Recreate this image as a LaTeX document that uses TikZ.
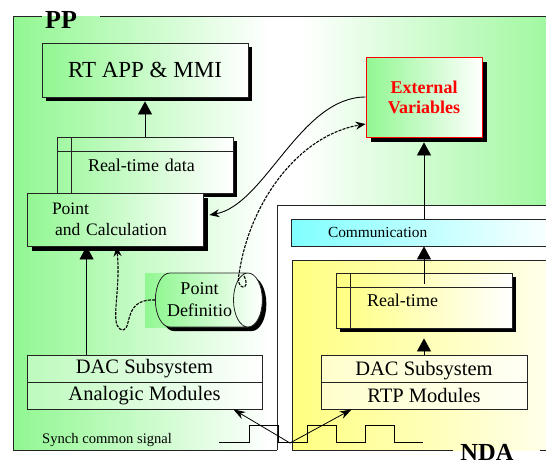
\documentclass[tikz,border=0pt]{standalone}
\usepackage{fontspec}
\setmainfont{Liberation Serif}
\usepackage{tikz}
\usetikzlibrary{arrows.meta, shapes.geometric, shadows, calc}

\definecolor{ppgreen}{RGB}{145,247,145}
\definecolor{ndayellow}{RGB}{255,255,128}
\definecolor{commcyan}{RGB}{128,255,255}
\definecolor{linegray}{RGB}{35,35,35}

\tikzset{
	frame/.style={draw=linegray, line width=0.8pt}
}
\tikzset{
	shadowed/.style={drop shadow={shadow xshift=#1, shadow yshift=-#1, fill=black, opacity=1}},
	greenbox/.style={frame, left color=ppgreen, right color=white, inner sep=2pt},
	store/.style={frame, inner sep=2pt, path picture={
		\draw[frame] ([yshift=-14pt]path picture bounding box.north west) -- ([yshift=-14pt]path picture bounding box.north east);
		\draw[frame] ([xshift=14pt]path picture bounding box.north west) -- ([xshift=14pt]path picture bounding box.south west);
	}},
	twopart/.style={frame, inner sep=2pt, path picture={
		\draw[frame] (path picture bounding box.west) -- (path picture bounding box.east);
	}}
}
\tikzset{
	bigtext/.style={font=\fontsize{23}{27}\selectfont},
	dactext/.style={font=\fontsize{20.5}{27}\selectfont},
	midtext/.style={font=\fontsize{18}{22}\selectfont},
	smalltext/.style={font=\fontsize{15.4}{18}\selectfont}
}
\tikzset{
	uparrow/.style={line width=0.8pt, -{Triangle[length=13pt,width=14pt]}},
	curvearrow/.style={line width=0.9pt, -{Stealth[length=10pt,width=8pt]}},
	dasharrow/.style={curvearrow, line width=1.1pt, dash pattern=on 3pt off 1.2pt},
	syncarrow/.style={line width=0.8pt, -{Stealth[length=12pt,width=8pt]}}
}

\begin{document}
\begin{tikzpicture}[x=1pt, y=-1pt]
	\useasboundingbox (0,0) rectangle (546,461);
	\clip (0,0) rectangle (546,461);

	% PP area
	\fill[white] (13,16) rectangle (560,450);
	\shade[left color=ppgreen, right color=white] (13,16) rectangle (270,450);
	\shade[left color=white, right color=ppgreen!90] (300,16) rectangle (560,450);
	\draw[frame] (42,16) -- (13,16) -- (13,450) -- (277,450);
	\draw[frame] (100,16) -- (560,16);

	% NDA area
	\fill[white] (277,205) rectangle (560,450);
	\draw[frame] (277,450) -- (277,205) -- (560,205);
	\shade[left color=ndayellow, right color=ndayellow!12] (292,260) rectangle (560,450);
	\draw[frame] (453,450) -- (292,450) -- (292,260) -- (560,260);
	\draw[frame] (540,450) -- (560,450);

	\node[font=\bfseries\fontsize{26}{28}\selectfont, inner sep=0pt] (pplabel) at (61,20) {PP};
	\node[font=\bfseries\fontsize{24.5}{26}\selectfont, anchor=base, inner sep=0pt] (ndalabel) at (487,460) {NDA};

	% left side
	\node[greenbox, shadowed=4pt, bigtext, minimum width=206pt, minimum height=54pt] (rtapp) at (145,70) {RT APP \& MMI};
	\node[store, left color=ppgreen!85, right color=white, shadowed=4pt, midtext, minimum width=176pt, minimum height=56pt, text width=114pt, align=left] (rtdata) at (145,165) {Real-time data};
	\node[greenbox, shadowed=5pt, font=\fontsize{17.5}{21}\selectfont, minimum width=176pt, minimum height=53pt, text width=126pt, align=left] (point) at (115,219.5) {Point\\\hspace*{3pt}and Calculation};
	\node[twopart, left color=ppgreen!60, right color=white, dactext, minimum width=235pt, minimum height=54pt, align=center] (dacl) at (144.5,382) {DAC Subsystem\\Analogic Modules};

	\shade[left color=ppgreen, right color=white] (145,273) rectangle (253,327);
	\node[cylinder, shape border rotate=0, aspect=0.8, frame, left color=ppgreen, right color=white, shadowed=4pt, midtext, align=center, minimum width=54pt, minimum height=107pt, inner sep=1pt] (pdef) at (199.5,300) {Point\\Definitio};

	% right side
	\node[frame, draw=red, left color=ppgreen, right color=white, shadowed=5pt, font=\bfseries\fontsize{18}{20}\selectfont, text=red, align=center, minimum width=116pt, minimum height=80pt] (extv) at (424,97) {External\\Variables};
	\node[frame, left color=commcyan, right color=white, smalltext, minimum width=269pt, minimum height=27pt, text width=195pt, align=left] (comm) at (425.5,232.5) {Communication};
	\node[store, left color=ndayellow, right color=white, shadowed=4pt, midtext, minimum width=176pt, minimum height=55pt, text width=114pt, align=left] (rtnda) at (424,300.5) {Real-time};
	\node[twopart, left color=ndayellow!40, right color=ndayellow!8, dactext, minimum width=206pt, minimum height=54pt, align=center] (dacr) at (424,382) {DAC Subsystem\\RTP Modules};

	% vertical flows
	\draw[uparrow, shorten >=4pt] (rtdata) -- (rtapp);
	\draw[uparrow] ([xshift=60pt]dacl.north west) -- ([xshift=60pt]point.south west);
	\draw[uparrow, shorten >=10pt] (dacr) -- (rtnda);
	\draw[uparrow] ([yshift=-11pt]rtnda.north) -- (rtnda.north |- comm.south);
	\draw[uparrow, shorten >=5pt] (extv.south |- comm.north) -- (extv.south);

	% curved links
	\draw[curvearrow] (extv.west) .. controls (300,97) and (265,205) .. ([xshift=6pt,yshift=4.5pt]point.east);
	\draw[dasharrow] (244,276) .. controls (252,291) and (235,291) .. (239,274) .. controls (250,200) and (300,135) .. ([yshift=-27pt]extv.west);
	\draw[dasharrow] (pdef.west) .. controls (120,298) and (134,336) .. (120,329) .. controls (110,323) and (121,290) .. ([xshift=90pt]point.south west);

	% synch signal
	\node[font=\fontsize{14.6}{17}\selectfont, anchor=base west, inner sep=0pt] (synclabel) at (42,443) {Synch common signal};
	\draw[line width=0.8pt] (219,442) -- (249,442) -- (249,425) -- (278,425) -- (278,442) -- (307,442) -- (307,425) -- (336,425) -- (336,442) -- (365,442) -- (365,425) -- (394,425) -- (394,442) -- (423,442);
	\coordinate (sync) at (290,443);
	\draw[syncarrow] (sync) -- ([xshift=-29pt]dacl.south east);
	\draw[syncarrow] (sync) -- ([xshift=31pt]dacr.south west);
\end{tikzpicture}
\end{document}
